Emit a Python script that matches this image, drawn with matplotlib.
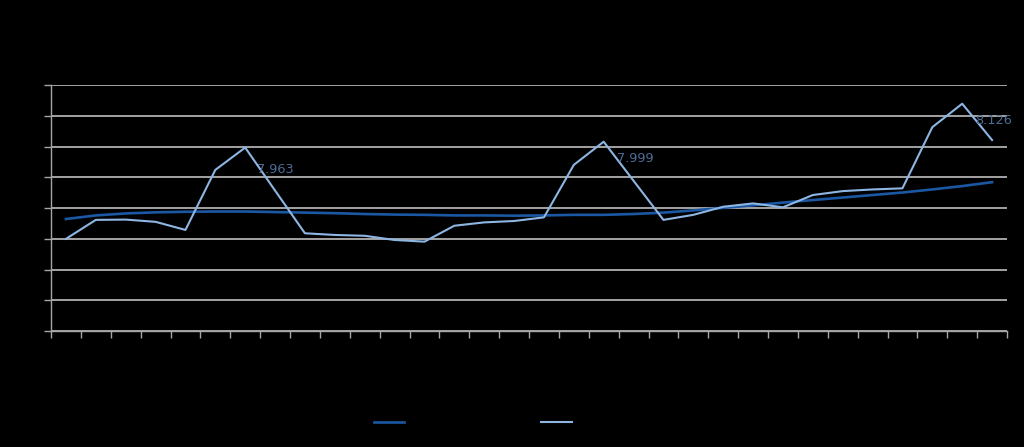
import matplotlib
matplotlib.use("Agg")
import matplotlib.pyplot as plt
import numpy as np

# ---- data ----
categories = list(range(1, 33))
actual = [7.640, 7.708, 7.709, 7.701, 7.672, 7.887, 7.967, 7.813,
          7.660, 7.654, 7.651, 7.636, 7.630, 7.687, 7.699, 7.704,
          7.717, 7.905, 7.988, 7.848, 7.708, 7.726, 7.755, 7.767,
          7.753, 7.797, 7.811, 7.817, 7.821, 8.040, 8.124, 7.994]
trend = [7.711, 7.724, 7.731, 7.735, 7.737, 7.738, 7.738, 7.736,
         7.734, 7.732, 7.729, 7.727, 7.726, 7.724, 7.724, 7.723,
         7.724, 7.726, 7.726, 7.729, 7.734, 7.742, 7.751, 7.760,
         7.770, 7.779, 7.788, 7.797, 7.806, 7.817, 7.829, 7.843]
label_idx = [6, 18, 30]
label_txt = ["7.963", "7.999", "8.126"]
series_names = ["Trend", "Actual"]

y_min, y_max, y_step = 7.31, 8.19, 0.11

fig = plt.figure(figsize=(10.24, 4.47), dpi=100, facecolor="black")
ax = fig.add_axes([51/1024, 1-331/447, 956/1024, (331-85.3)/447])
ax.set_facecolor("black")

x = np.arange(len(categories))
dark = "#1b58a3"
light = "#8db6e3"
l1, = ax.plot(x, trend, color=dark, lw=1.9, label=series_names[0], zorder=3)
l2, = ax.plot(x, actual, color=light, lw=1.5, label=series_names[1], zorder=4)

offsets = [(12, -22), (13, -17), (13, -17)]
for i, t, off in zip(label_idx, label_txt, offsets):
    ax.annotate(t, (x[i], actual[i]), xytext=off, textcoords="offset pixels",
                ha="left", va="center", fontsize=9.3, color="#4d6d96", zorder=5)

ax.set_xlim(-0.5, len(categories) - 0.5)
ax.set_ylim(y_min, y_max)
ax.set_yticks(np.arange(y_min, y_max + 1e-9, y_step))
ax.set_xticks(np.arange(-0.5, len(categories), 1.0))
ax.set_xticklabels([])
ax.set_yticklabels([])
ax.grid(axis="y", color="#cfcfcf", lw=1.1, zorder=1)
ax.set_axisbelow(True)
for s in ["top", "right"]:
    ax.spines[s].set_visible(False)
for s in ["left", "bottom"]:
    ax.spines[s].set_color("#a6a6a6")
    ax.spines[s].set_linewidth(1.0)
ax.tick_params(axis="both", colors="#a6a6a6", length=5, width=1.0, direction="out")

leg = fig.legend(handles=[l1, l2], loc="center", bbox_to_anchor=(500/1024, 1-423/447),
                 ncol=2, frameon=False, fontsize=10, handlelength=2.2,
                 columnspacing=6.3, labelcolor="black")

fig.savefig("out.png", dpi=100, facecolor="black")
